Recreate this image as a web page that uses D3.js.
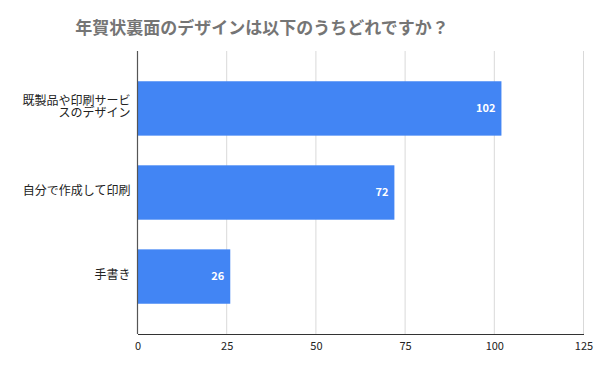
<!DOCTYPE html>
<html>
<head>
<meta charset="utf-8">
<script src="https://cdn.jsdelivr.net/npm/d3@7"></script>
<style>
  body { margin: 0; background: #fff; }
  text { font-family: "Noto Sans CJK JP", "Noto Sans", sans-serif; }
</style>
</head>
<body>
<div id="chart-area"></div>
<script>
// data
var categories = [['既製品や印刷サービ', 'スのデザイン'], ['自分で作成して印刷'], ['手書き']];
var values = [102, 72, 26];
var xTicks = [0, 25, 50, 75, 100, 125];
var title = '年賀状裏面のデザインは以下のうちどれですか？';

var W = 602, H = 372;
var margin = { top: 51, right: 18.5, bottom: 38, left: 137.5 };
var width = W - margin.left - margin.right;
var height = H - margin.top - margin.bottom;

var svg = d3.select('#chart-area')
    .append('svg')
    .attr('width', W)
    .attr('height', H);

svg.append('text')
    .attr('x', 262)
    .attr('y', 34)
    .attr('text-anchor', 'middle')
    .attr('fill', '#757575')
    .attr('font-size', 17)
    .attr('font-weight', 'bold')
    .text(title);

var graph = svg.append('g')
    .attr('transform', 'translate(' + margin.left + ',' + margin.top + ')');

var x = d3.scaleLinear().domain([0, 125]).range([0, width]);
var y = d3.scaleBand()
    .domain(d3.range(values.length))
    .range([0, height])
    .paddingInner(0.353)
    .paddingOuter(0.36);

// grid
graph.append('g')
    .selectAll('line')
    .data(xTicks.slice(1))
    .enter()
    .append('line')
    .attr('x1', function (d) { return x(d); })
    .attr('x2', function (d) { return x(d); })
    .attr('y1', 0)
    .attr('y2', height)
    .attr('stroke', '#d9d9d9')
    .attr('stroke-width', 1);

// bars
graph.selectAll('rect')
    .data(values)
    .enter()
    .append('rect')
    .attr('x', 0)
    .attr('y', function (d, i) { return y(i); })
    .attr('width', function (d) { return x(d); })
    .attr('height', y.bandwidth())
    .attr('fill', '#4285f4');

// value labels
graph.selectAll('.val')
    .data(values)
    .enter()
    .append('text')
    .attr('class', 'val')
    .attr('x', function (d) { return x(d) - 6; })
    .attr('y', function (d, i) { return y(i) + y.bandwidth() / 2; })
    .attr('dy', '0.35em')
    .attr('text-anchor', 'end')
    .attr('fill', '#fff')
    .attr('font-size', 11)
    .attr('font-weight', 'bold')
    .attr('font-family', '"Liberation Sans", Arial, sans-serif')
    .text(function (d) { return d; });

// category labels
var cat = graph.selectAll('.cat')
    .data(categories)
    .enter()
    .append('text')
    .attr('class', 'cat')
    .attr('text-anchor', 'end')
    .attr('fill', '#222')
    .attr('font-size', 12)
    .attr('y', function (d, i) { return y(i) + y.bandwidth() / 2 - 1.5 - (d.length - 1) * 6.3; });
cat.selectAll('tspan')
    .data(function (d) { return d; })
    .enter()
    .append('tspan')
    .attr('x', -7)
    .attr('dy', function (d, j) { return j === 0 ? '0.35em' : 12.6; })
    .text(function (d) { return d; });

// axes
var xAxis = d3.axisBottom(x)
    .tickValues(xTicks)
    .tickSize(0)
    .tickPadding(8);
var xg = graph.append('g')
    .attr('transform', 'translate(0,' + height + ')')
    .call(xAxis);
xg.select('.domain').attr('stroke', '#333').attr('stroke-width', 1.2);
xg.selectAll('text')
    .attr('font-size', 11)
    .attr('fill', '#222')
    .attr('font-family', '"Liberation Sans", Arial, sans-serif');

graph.append('line')
    .attr('x1', 0).attr('x2', 0)
    .attr('y1', 0).attr('y2', height)
    .attr('stroke', '#555')
    .attr('stroke-width', 1.2);
</script>
</body>
</html>
